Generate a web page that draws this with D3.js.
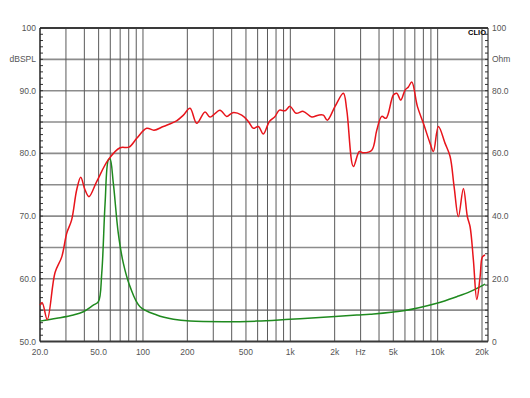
<!DOCTYPE html>
<meta charset="utf-8">
<html lang="en">
<head>
<title>CLIO response</title>
<script src="https://d3js.org/d3.v7.min.js"></script>
<style>
  body { margin: 0; background: #fff; }
  text { font-family: Arial, "Liberation Sans", sans-serif; }
</style>
</head>
<body>
<svg width="530" height="398"></svg>
<script>

// SPL response (Hz, dB)
var splFreq = [20, 20.7, 22.4, 25.3, 28.1, 30.4, 32.8, 35.5, 37.8, 40.4, 43, 48.5, 58.2, 69.9, 80.4, 90.7,
  106, 118.8, 137.5, 169, 188, 208.6, 231.6, 263.8, 285, 333, 370, 407, 468, 519, 561, 607, 656, 721,
  788, 843, 921, 996, 1094, 1226, 1398, 1550, 1676, 1784, 2012, 2291, 2417, 2680, 2943, 3133, 3572,
  3862, 4176, 4467, 5006, 5281, 5619, 6012, 6331, 6675, 7285, 8002, 8888, 9360, 10116, 11234, 12148,
  12931, 13830, 14953, 15915, 16604, 17482, 18437, 19413, 20125, 20990]
var splDb = [55.8, 56.2, 53.5, 61, 63.5, 67.3, 69.4, 74.2, 76.2, 74.2, 73.1, 75.5, 79, 80.9, 81, 82.4,
  84, 83.7, 84.3, 85.2, 86.1, 87.2, 84.8, 86.6, 85.8, 86.9, 85.9, 86.5, 86.1, 85.1, 84, 84.3, 83.1, 85.1,
  85.9, 86.9, 86.8, 87.5, 86.4, 86.7, 85.8, 86.1, 86.1, 85.3, 87.5, 89.6, 86.9, 77.9, 80.3, 80.1, 80.5,
  83.7, 85.9, 85.6, 89.3, 89.6, 88.5, 90.1, 90.6, 91.4, 87.5, 84.8, 81.6, 80.3, 84.3, 81.6, 79.5,
  74.7, 69.9, 74.4, 69.9, 68.3, 63, 56.7, 60.3, 63.5, 63.8]

// impedance (Hz, ohm)
var impFreq = [20, 26, 33.7, 39.4, 46, 49.8, 52.5, 55.3, 58.2, 59.7, 62.9, 68, 73.6, 81.7, 95.5, 124,
  161, 208.6, 351, 592, 996, 1676, 2825, 3478, 5855, 9866, 13490, 16604, 20990]
var impOhm = [6.5, 7.4, 8.45, 9.5, 11.6, 12.7, 21.8, 44, 57.9, 58.3, 50.5, 34.5, 24.9, 17.5, 11.1, 8.45,
  7.1, 6.5, 6.3, 6.5, 7.1, 7.7, 8.45, 8.7, 9.8, 12.2, 14.3, 15.9, 18.3]

var xGrid = [30, 40, 50, 60, 70, 80, 90, 100, 200, 300, 400, 500, 600, 700, 800, 900, 1000,
  2000, 3000, 4000, 5000, 6000, 7000, 8000, 9000, 10000, 20000]
var xTickVals = [20, 50, 100, 200, 500, 1000, 2000, 3000, 5000, 10000, 20000]
var xTickText = ["20.0", "50.0", "100", "200", "500", "1k", "2k", "Hz", "5k", "10k", "20k"]
var leftVals = [100, 95, 90, 80, 70, 60, 50]
var leftText = ["100", "dBSPL", "90.0", "80.0", "70.0", "60.0", "50.0"]
var rightVals = [100, 90, 80, 60, 40, 20, 0]
var rightText = ["100", "Ohm", "80.0", "60.0", "40.0", "20.0", "0"]

var plotL = 40, plotR = 488, plotT = 28, plotB = 341.5

var svg = d3.select('svg')

var x = d3.scaleLog().domain([20, 20000]).range([plotL, 482])
var y = d3.scaleLinear().domain([50, 100]).range([plotB, plotT])
var yR = d3.scaleLinear().domain([0, 100]).range([plotB, plotT])

// horizontal grid every 5 dB
svg.append('g').selectAll('line')
  .data(d3.range(55, 100, 5))
  .enter().append('line')
    .attr('x1', plotL).attr('x2', plotR)
    .attr('y1', function (d) { return y(d) })
    .attr('y2', function (d) { return y(d) })
    .attr('stroke', '#8c8c8c')
    .attr('stroke-width', 1.6)

// vertical grid
svg.append('g').selectAll('line')
  .data(xGrid)
  .enter().append('line')
    .attr('x1', function (d) { return x(d) })
    .attr('x2', function (d) { return x(d) })
    .attr('y1', plotT).attr('y2', plotB)
    .attr('stroke', '#5a5a5a')
    .attr('stroke-width', 1)

// minor ticks on both sides
svg.append('g').selectAll('line')
  .data(d3.range(51, 100, 1))
  .enter().append('line')
    .attr('x1', plotL).attr('x2', plotL + 3)
    .attr('y1', function (d) { return y(d) })
    .attr('y2', function (d) { return y(d) })
    .attr('stroke', '#333')
svg.append('g').selectAll('line')
  .data(d3.range(2, 100, 2))
  .enter().append('line')
    .attr('x1', plotR - 3).attr('x2', plotR)
    .attr('y1', function (d) { return yR(d) })
    .attr('y2', function (d) { return yR(d) })
    .attr('stroke', '#333')

// frame
svg.append('line').attr('x1', plotL).attr('x2', plotR).attr('y1', plotT).attr('y2', plotT)
  .attr('stroke', '#3a3a3a').attr('stroke-width', 2)
svg.append('line').attr('x1', plotL).attr('x2', plotR).attr('y1', plotB).attr('y2', plotB)
  .attr('stroke', '#3a3a3a').attr('stroke-width', 2)
svg.append('line').attr('x1', plotL).attr('x2', plotL).attr('y1', plotT).attr('y2', plotB)
  .attr('stroke', '#222').attr('stroke-width', 1.5)
svg.append('line').attr('x1', plotR).attr('x2', plotR).attr('y1', plotT).attr('y2', plotB)
  .attr('stroke', '#333').attr('stroke-width', 1.2)

var line = d3.line()
  .x(function (d) { return x(d[0]) })
  .y(function (d) { return d[2](d[1]) })
  .curve(d3.curveCatmullRom.alpha(0.5))

var impData = impFreq.map(function (f, i) { return [f, impOhm[i], yR] })
var splData = splFreq.map(function (f, i) { return [f, splDb[i], y] })

svg.append('path').datum(impData)
  .attr('d', line)
  .attr('fill', 'none')
  .attr('stroke', '#1f8a1f')
  .attr('stroke-width', 1.5)

svg.append('path').datum(splData)
  .attr('d', line)
  .attr('fill', 'none')
  .attr('stroke', '#e8141b')
  .attr('stroke-width', 1.5)

// labels
svg.append('g').selectAll('text')
  .data(leftVals)
  .enter().append('text')
    .attr('x', 36)
    .attr('y', function (d) { return y(d) + 3 })
    .attr('text-anchor', 'end')
    .attr('font-size', 8.5)
    .attr('fill', '#555')
    .text(function (d, i) { return leftText[i] })

svg.append('g').selectAll('text')
  .data(rightVals)
  .enter().append('text')
    .attr('x', 492)
    .attr('y', function (d) { return yR(d) + 3 })
    .attr('font-size', 8.5)
    .attr('fill', '#555')
    .text(function (d, i) { return rightText[i] })

svg.append('g').selectAll('text')
  .data(xTickVals)
  .enter().append('text')
    .attr('x', function (d) { return x(d) })
    .attr('y', 355)
    .attr('text-anchor', 'middle')
    .attr('font-size', 8.5)
    .attr('fill', '#555')
    .text(function (d, i) { return xTickText[i] })

svg.append('text')
  .attr('x', 486).attr('y', 35)
  .attr('text-anchor', 'end')
  .attr('font-family', '"Liberation Serif", serif')
  .attr('font-weight', 'bold')
  .attr('font-size', 7.5)
  .attr('fill', '#000')
  .text('CLIO')
</script>
</body>
</html>
